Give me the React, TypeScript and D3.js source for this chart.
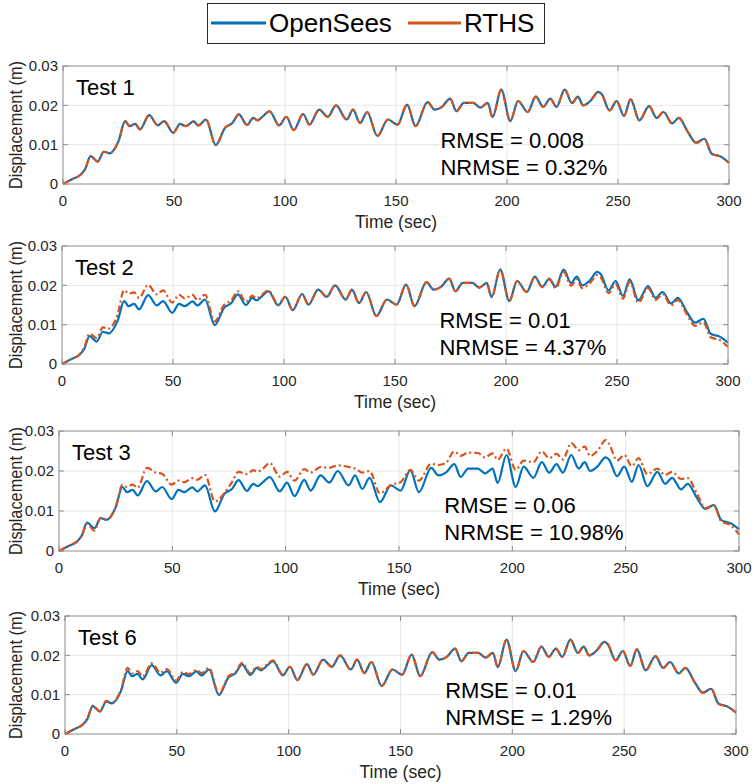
import React from 'react';
import { curveMonotoneX, line, scaleLinear } from 'd3';

const FONT = '"Liberation Sans", Arial, Helvetica, sans-serif';
const NARROW = '"Liberation Sans Narrow", "Arial Narrow", "Liberation Sans", sans-serif';
const BLUE = '#0072BD';
const ORANGE = '#D95319';

// time stamps (sec) of the key points
const time = [
  0, 4, 8, 10, 12.4, 15.6, 18.4, 21, 25, 28,
  30, 32.5, 34.7, 38.8, 42.7, 45.5, 49.7, 52.7, 55.3, 58.8,
  61, 64.4, 68.8, 73, 76.3, 79.2, 82.9, 85.7, 87.6, 90,
  93, 97.4, 100.6, 103.9, 108.2, 111, 115.4, 119.3, 123, 127.8,
  130.6, 133.8, 137, 141.6, 146.4, 150.7, 155, 158.8, 164.2, 167.4,
  170.7, 174.4, 177.2, 180.5, 184.8, 188, 191.3, 193.5, 197.4, 201.5,
  205, 209.3, 213, 216.3, 219.5, 222.3, 226, 229.3, 231.9, 234.3,
  237.5, 241.2, 242.7, 246.2, 249.4, 252.7, 255.7, 259.6, 264, 267.4,
  270.5, 274.4, 277.4, 281.3, 285.2, 288.9, 292.2, 296.5, 300,
];

// OpenSees displacement (m), same reference in every panel
const openSees = [
  0, 0.0012, 0.0024, 0.0038, 0.0071, 0.0057, 0.0082, 0.0078, 0.0109, 0.016,
  0.0147, 0.0153, 0.0139, 0.0175, 0.0149, 0.016, 0.013, 0.0153, 0.0147, 0.0159,
  0.0149, 0.0164, 0.0099, 0.0143, 0.0155, 0.0177, 0.015, 0.0168, 0.0162, 0.0172,
  0.0185, 0.0149, 0.0171, 0.0137, 0.0178, 0.0151, 0.0189, 0.0171, 0.02, 0.0164,
  0.0189, 0.0155, 0.0183, 0.0122, 0.0164, 0.0151, 0.0202, 0.0147, 0.0208, 0.0189,
  0.0196, 0.0217, 0.0185, 0.0206, 0.0206, 0.0194, 0.0206, 0.017, 0.024, 0.016,
  0.0211, 0.0183, 0.0222, 0.0196, 0.0217, 0.0196, 0.024, 0.0206, 0.0222, 0.02,
  0.0211, 0.0234, 0.0228, 0.0187, 0.0211, 0.0173, 0.0215, 0.0162, 0.0198, 0.0168,
  0.0183, 0.0154, 0.0168, 0.0134, 0.0105, 0.0115, 0.0077, 0.0069, 0.0054,
];

const rthsTest1 = [
  0, 0.0012, 0.0024, 0.0038, 0.0071, 0.0057, 0.0082, 0.0078, 0.0109, 0.016,
  0.0147, 0.0153, 0.0139, 0.0175, 0.0149, 0.016, 0.013, 0.0153, 0.0147, 0.0159,
  0.0149, 0.0164, 0.0099, 0.0143, 0.0155, 0.0177, 0.015, 0.0168, 0.0162, 0.0172,
  0.0185, 0.0149, 0.0171, 0.0137, 0.0178, 0.0151, 0.0189, 0.0171, 0.02, 0.0164,
  0.0189, 0.0155, 0.0183, 0.0122, 0.0164, 0.0151, 0.0202, 0.0147, 0.0208, 0.0189,
  0.0196, 0.0217, 0.0185, 0.0206, 0.0206, 0.0194, 0.0206, 0.017, 0.024, 0.016,
  0.0211, 0.0183, 0.0222, 0.0196, 0.0217, 0.0196, 0.024, 0.0206, 0.0222, 0.02,
  0.0211, 0.0234, 0.0228, 0.0187, 0.0211, 0.0173, 0.0215, 0.0162, 0.0198, 0.0168,
  0.0183, 0.0154, 0.0168, 0.0134, 0.0105, 0.0115, 0.0077, 0.0069, 0.0054,
];

const rthsTest2 = [
  0, 0.0012, 0.0025, 0.0042, 0.0077, 0.0066, 0.0093, 0.009, 0.0125, 0.0188,
  0.0179, 0.0182, 0.0168, 0.0201, 0.0177, 0.0187, 0.0156, 0.0176, 0.0167, 0.0176,
  0.0162, 0.0176, 0.0108, 0.015, 0.0162, 0.0185, 0.0158, 0.0174, 0.0167, 0.0176,
  0.0187, 0.0151, 0.0171, 0.0137, 0.0178, 0.0151, 0.0189, 0.0171, 0.02, 0.0164,
  0.0189, 0.0155, 0.0183, 0.0122, 0.0164, 0.0151, 0.0202, 0.0147, 0.0208, 0.0189,
  0.0196, 0.0217, 0.0185, 0.0206, 0.0206, 0.0194, 0.0206, 0.017, 0.024, 0.016,
  0.0211, 0.0183, 0.0221, 0.0195, 0.0215, 0.0193, 0.0234, 0.0199, 0.0215, 0.0193,
  0.0204, 0.0226, 0.022, 0.018, 0.0203, 0.0166, 0.0209, 0.0156, 0.0193, 0.0163,
  0.0178, 0.0149, 0.0163, 0.0128, 0.0097, 0.0106, 0.0068, 0.006, 0.0044,
];

const rthsTest3 = [
  0, 0.0012, 0.0024, 0.0038, 0.0068, 0.0051, 0.0083, 0.0078, 0.011, 0.0166,
  0.016, 0.0166, 0.0158, 0.0208, 0.0196, 0.0193, 0.0166, 0.0176, 0.0172, 0.0182,
  0.0178, 0.019, 0.0124, 0.0145, 0.0172, 0.0198, 0.0192, 0.0202, 0.0198, 0.0206,
  0.022, 0.0186, 0.0198, 0.0176, 0.0205, 0.0196, 0.021, 0.0208, 0.0214, 0.021,
  0.0206, 0.0196, 0.02, 0.0144, 0.0165, 0.0172, 0.0203, 0.0176, 0.0218, 0.0215,
  0.022, 0.0249, 0.0238, 0.0246, 0.0245, 0.0234, 0.0244, 0.0228, 0.0256, 0.0203,
  0.0226, 0.0222, 0.0249, 0.0232, 0.0243, 0.0229, 0.027, 0.0252, 0.0261, 0.0238,
  0.025, 0.0277, 0.0268, 0.0226, 0.024, 0.0212, 0.0232, 0.0192, 0.0206, 0.019,
  0.0198, 0.018, 0.0182, 0.0145, 0.0107, 0.0114, 0.0074, 0.0064, 0.0041,
];

const rthsTest6 = [
  0, 0.0012, 0.0025, 0.004, 0.0072, 0.0058, 0.0084, 0.008, 0.0112, 0.0168,
  0.0154, 0.016, 0.0146, 0.018, 0.0156, 0.0165, 0.0136, 0.0158, 0.0152, 0.0163,
  0.0155, 0.0168, 0.0102, 0.0146, 0.0158, 0.0181, 0.0154, 0.0171, 0.0165, 0.0175,
  0.0187, 0.0151, 0.0171, 0.0137, 0.0178, 0.0151, 0.0189, 0.0171, 0.02, 0.0164,
  0.0189, 0.0155, 0.0183, 0.0122, 0.0164, 0.0151, 0.0202, 0.0147, 0.0208, 0.0189,
  0.0196, 0.0217, 0.0185, 0.0206, 0.0206, 0.0194, 0.0206, 0.017, 0.024, 0.016,
  0.0211, 0.0183, 0.0222, 0.0196, 0.0217, 0.0196, 0.024, 0.0206, 0.0222, 0.02,
  0.0211, 0.0234, 0.0228, 0.0187, 0.0211, 0.0173, 0.0215, 0.0162, 0.0198, 0.0168,
  0.0183, 0.0154, 0.0168, 0.0134, 0.0105, 0.0115, 0.0077, 0.0069, 0.0055,
];

const xTicks = [0, 50, 100, 150, 200, 250, 300];
const yTicks = [0, 0.01, 0.02, 0.03];
const yTickLabels = ['0', '0.01', '0.02', '0.03'];

const testNames = ['Test 1', 'Test 2', 'Test 3', 'Test 6'];
const rmseLabels = ['0.008', '0.01', '0.06', '0.01'];
const nrmseLabels = ['0.32%', '4.37%', '10.98%', '1.29%'];
const rthsSeries = [rthsTest1, rthsTest2, rthsTest3, rthsTest6];

// plot boxes of the four sub-figures: [left, top, right, bottom]
const boxes = [
  [63, 66, 729, 184],
  [62, 246, 728, 364],
  [59, 431, 739, 551],
  [65, 616, 736, 734],
];

interface PanelProps {
  box: number[];
  rths: number[];
  name: string;
  rmse: string;
  nrmse: string;
}

function Panel({ box, rths, name, rmse, nrmse }: PanelProps) {
  const [left, top, right, bottom] = box;
  const x = scaleLinear().domain([0, 300]).range([left, right]);
  const y = scaleLinear().domain([0, 0.03]).range([bottom, top]);
  const path = line<number>()
    .x((_, i) => x(time[i]))
    .y((d) => y(d))
    .curve(curveMonotoneX);
  const tick = 5;
  const midY = (top + bottom) / 2;

  return (
    <g>
      <rect x={left} y={top} width={right - left} height={bottom - top} fill="#fff" />
      {xTicks.slice(1, -1).map((t) => (
        <line key={`gx-${t}`} x1={x(t)} x2={x(t)} y1={top} y2={bottom} stroke="#e6e6e6" />
      ))}
      {yTicks.slice(1, -1).map((t) => (
        <line key={`gy-${t}`} x1={left} x2={right} y1={y(t)} y2={y(t)} stroke="#e6e6e6" />
      ))}
      <path d={path(openSees) ?? ''} fill="none" stroke={BLUE} strokeWidth={2.2} />
      <path
        d={path(rths) ?? ''}
        fill="none"
        stroke={ORANGE}
        strokeWidth={2.2}
        strokeDasharray="7,3,2,3"
      />
      <rect
        x={left}
        y={top}
        width={right - left}
        height={bottom - top}
        fill="none"
        stroke="#8c8c8c"
        strokeWidth={1}
      />
      {xTicks.map((t) => (
        <g key={`tx-${t}`}>
          <line x1={x(t)} x2={x(t)} y1={bottom} y2={bottom - tick} stroke="#8c8c8c" />
          <line x1={x(t)} x2={x(t)} y1={top} y2={top + tick} stroke="#8c8c8c" />
          <text
            x={x(t)}
            y={bottom + 22}
            textAnchor="middle"
            fontSize={15}
            fontFamily={FONT}
            fill="#262626"
          >
            {t}
          </text>
        </g>
      ))}
      {yTicks.map((t, i) => (
        <g key={`ty-${t}`}>
          <line x1={left} x2={left + tick} y1={y(t)} y2={y(t)} stroke="#8c8c8c" />
          <line x1={right} x2={right - tick} y1={y(t)} y2={y(t)} stroke="#8c8c8c" />
          <text
            x={left - 5}
            y={y(t)}
            dy="0.35em"
            textAnchor="end"
            fontSize={15}
            fontFamily={FONT}
            fill="#262626"
          >
            {yTickLabels[i]}
          </text>
        </g>
      ))}
      <text
        x={(left + right) / 2}
        y={bottom + 44}
        textAnchor="middle"
        fontSize={17.5}
        fontFamily={FONT}
        fill="#262626"
      >
        Time (sec)
      </text>
      <text
        transform={`translate(22, ${midY}) rotate(-90)`}
        textAnchor="middle"
        fontSize={19}
        fontFamily={NARROW}
        textLength={128}
        lengthAdjust="spacingAndGlyphs"
        fill="#262626"
      >
        Displacement (m)
      </text>
      <text x={left + 13} y={top + 29} fontSize={22} fontFamily={FONT} fill="#000">
        {name}
      </text>
      <text x={x(170)} y={top + 82} fontSize={22} fontFamily={FONT} fill="#000">
        {`RMSE = ${rmse}`}
      </text>
      <text x={x(170)} y={top + 109} fontSize={22} fontFamily={FONT} fill="#000">
        {`NRMSE = ${nrmse}`}
      </text>
    </g>
  );
}

function Legend() {
  return (
    <g>
      <rect x={207.5} y={3.5} width={337} height={40} fill="#fff" stroke="#262626" strokeWidth={1} />
      <line x1={211} x2={266} y1={23} y2={23} stroke={BLUE} strokeWidth={3} />
      <text x={269} y={32} fontSize={26} fontFamily={FONT} fill="#000">
        OpenSees
      </text>
      <line x1={408} x2={461} y1={23} y2={23} stroke={ORANGE} strokeWidth={3} />
      <text x={464} y={32} fontSize={26} fontFamily={FONT} fill="#000">
        RTHS
      </text>
    </g>
  );
}

export default function App() {
  return (
    <svg
      width={754}
      height={784}
      style={{ position: 'absolute', left: 0, top: 0, background: '#fff' }}
    >
      <rect width={754} height={784} fill="#fff" />
      <Legend />
      {boxes.map((box, i) => (
        <Panel
          key={testNames[i]}
          box={box}
          rths={rthsSeries[i]}
          name={testNames[i]}
          rmse={rmseLabels[i]}
          nrmse={nrmseLabels[i]}
        />
      ))}
    </svg>
  );
}
